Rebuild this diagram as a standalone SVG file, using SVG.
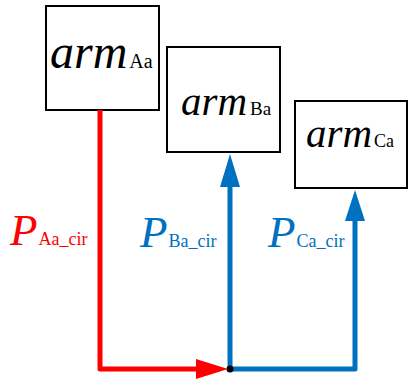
<svg xmlns="http://www.w3.org/2000/svg" width="410" height="384" viewBox="0 0 410 384">
<style>
.box{fill:#fff;stroke:#000;stroke-width:2}
.arm{font-family:"Liberation Serif",serif;font-style:italic}
.sub{font-family:"Liberation Serif",serif;font-style:normal}
.red{fill:#FF0000}
.blue{fill:#0070C0}
</style>
<g id="armAa">
<rect class="box" x="46" y="6" width="113" height="104"/>
<text class="arm" x="50" y="68" font-size="48">arm<tspan class="sub" dx="2" font-size="20">Aa</tspan></text>
</g>
<g id="armBa">
<rect class="box" x="167" y="47" width="113" height="105"/>
<text class="arm" x="181" y="115" font-size="41">arm<tspan class="sub" dx="3" font-size="19">Ba</tspan></text>
</g>
<g id="armCa">
<rect class="box" x="295" y="101" width="112" height="87"/>
<text class="arm" x="306" y="147" font-size="41">arm<tspan class="sub" dx="2" font-size="18">Ca</tspan></text>
</g>
<g id="connectors">
<polyline points="100,110 100,369 200,369" fill="none" stroke="#FF0000" stroke-width="5" stroke-linejoin="round"/>
<polygon points="196,359 228,369 196,379" fill="#FF0000"/>
<polyline points="230,187 230,369 355,369 355,220" fill="none" stroke="#0070C0" stroke-width="5" stroke-linejoin="round"/>
<polygon points="220,187 230,154 240,187" fill="#0070C0"/>
<polygon points="345,221 355,190 365,221" fill="#0070C0"/>
<circle cx="230" cy="369" r="3.5" fill="#000"/>
</g>
<g id="labels">
<text class="arm red" x="10" y="245" font-size="45">P<tspan class="sub" dx="1" font-size="18">Aa_cir</tspan></text>
<text class="arm blue" x="140" y="247" font-size="45">P<tspan class="sub" dx="1" font-size="18">Ba_cir</tspan></text>
<text class="arm blue" x="268" y="247" font-size="45">P<tspan class="sub" dx="1" font-size="18">Ca_cir</tspan></text>
</g>
</svg>
